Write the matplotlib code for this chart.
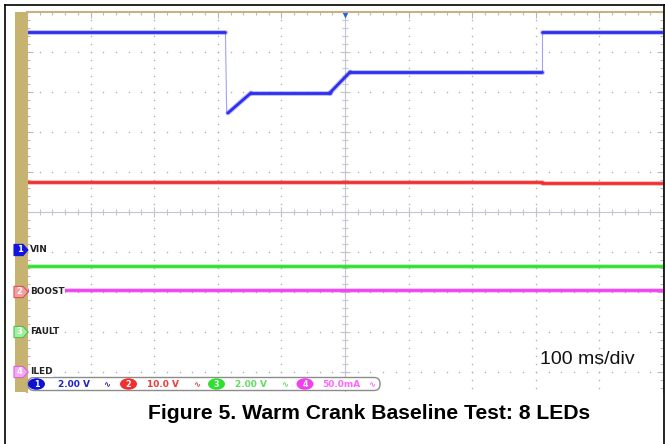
import numpy as np
import matplotlib
matplotlib.use("Agg")
import matplotlib.pyplot as plt
from matplotlib.patches import Polygon, Ellipse, FancyBboxPatch, Rectangle
from matplotlib.transforms import blended_transform_factory
from matplotlib.ticker import MultipleLocator
from matplotlib.collections import LineCollection

# --- scope capture values (time in ms) ---
vin_t = [-500, -188, -186, -184, -148, -24, 8, 310, 310, 500]
vin_v = [10.9, 10.9, 6.8, 6.85, 7.85, 7.85, 8.9, 8.9, 10.9, 10.9]      # V

boost_t = [-500, 310, 310, 500]
boost_v = [27.5, 27.5, 27.25, 27.25]                                    # V

fault_t = [-500, 500]
fault_v = [3.3, 3.3]                                                    # V

iled_t = [-500, 500]
iled_v = [102, 102]                                                     # mA

channel_names = ["VIN", "BOOST", "FAULT", "ILED"]
channel_scales = [2.0, 10.0, 2.0, 50.0]          # per division
channel_offsets = [-0.95, -2.0, -3.0, -4.0]      # ground marker, divisions
scale_labels = ["2.00 V", "10.0 V", "2.00 V", "50.0mA"]
time_per_div = 100  # ms

trace_colors = ["#2e2ef0", "#f03030", "#30e030", "#f040f0"]
text_colors = ["#2020c8", "#ee3a3a", "#60dd60", "#ff66ff"]
marker_fill = ["#1414e0", "#f4a0a0", "#a0eea0", "#f4a8f4"]
marker_edge = ["#1414e0", "#e05050", "#50c050", "#e060e0"]

W, H = 665, 444
fig = plt.figure(figsize=(W / 100, H / 100), dpi=100)

# screen area (pixels): x 27..663, y 12..392
ax = fig.add_axes([27 / W, 1 - 392 / H, 636 / W, 380 / H])
ax.set_xlim(-5 * time_per_div, 5 * time_per_div)
ax.set_ylim(-4.5, 5)

# graticule dots
xs_major = [x for x in np.arange(-400, 401, 100) if x != 0]
ys_major = [y for y in np.arange(-4, 5, 1) if y != 0]
ys_minor = np.arange(-4.4, 5.0, 0.2)
xs_minor = np.arange(-480, 500, 20)
dot = dict(linestyle="none", marker="o", ms=1.1, mec="none", color="#b0b0b0")
for xm in xs_major:
    ax.plot(np.full_like(ys_minor, xm), ys_minor, **dot)
for ym in ys_major:
    ax.plot(xs_minor, np.full_like(xs_minor, ym, dtype=float), **dot)

# centre crosshair with ticks
cross = "#c4c4d4"
ax.axhline(0, color=cross, lw=0.8)
ax.axvline(0, color=cross, lw=0.8)
ax.plot(xs_minor, np.zeros_like(xs_minor), linestyle="none", marker="|", ms=4, mew=0.8, color=cross)
ax.plot(np.zeros_like(ys_minor), ys_minor, linestyle="none", marker="_", ms=4, mew=0.8, color=cross)
ax.plot(xs_major, np.zeros(len(xs_major)), linestyle="none", marker="|", ms=7, mew=0.8, color=cross)
ax.plot(np.zeros(len(ys_major)), ys_major, linestyle="none", marker="_", ms=7, mew=0.8, color=cross)

# traces: fast edges are drawn thin and faint, the rest thick
traces = [(vin_t, vin_v), (boost_t, boost_v), (fault_t, fault_v), (iled_t, iled_v)]
for i, (t, v) in enumerate(traces):
    y = np.array(v) / channel_scales[i] + channel_offsets[i]
    pts = np.column_stack([t, y])
    segs = np.stack([pts[:-1], pts[1:]], axis=1)
    fast = np.abs(np.diff(t)) < 3
    slow_segs = segs[~fast]
    fast_segs = segs[fast]
    ax.add_collection(LineCollection(slow_segs, colors=trace_colors[i], linewidths=3.6,
                                     alpha=0.3, capstyle="round"))
    ax.add_collection(LineCollection(slow_segs, colors=trace_colors[i], linewidths=2.0,
                                     capstyle="round"))
    if len(fast_segs):
        ax.add_collection(LineCollection(fast_segs, colors=trace_colors[i], linewidths=0.8,
                                         alpha=0.45))

# trigger marker
ax.plot([0], [4.93], marker="v", ms=5, color="#2a60e0", clip_on=False, mec="none")

ax.xaxis.set_major_locator(MultipleLocator(time_per_div))
ax.xaxis.set_minor_locator(MultipleLocator(time_per_div / 5))
ax.yaxis.set_major_locator(MultipleLocator(1))
ax.yaxis.set_minor_locator(MultipleLocator(0.2))
ax.tick_params(which="both", direction="in", top=True, right=True, bottom=False,
               labelleft=False, labelbottom=False, color="#b8b8b8")
ax.tick_params(which="major", length=4, width=0.8)
ax.tick_params(which="minor", length=2, width=0.8)
for side in ["top", "left"]:
    ax.spines[side].set_color("#c9b27e")
    ax.spines[side].set_linewidth(1.5)
ax.spines["right"].set_color("#c0c0c0")
ax.spines["right"].set_linewidth(0.8)
ax.spines["bottom"].set_visible(False)

# overlay in pixel coordinates
ov = fig.add_axes([0, 0, 1, 1])
ov.set_xlim(0, W)
ov.set_ylim(H, 0)
ov.axis("off")
ov.set_zorder(5)

ov.add_patch(Rectangle((15, 12), 12, 380, color="#c5b36f", lw=0))
ov.plot([5, 5], [5, H], color="black", lw=1.2)
ov.plot([5, W], [5, 5], color="black", lw=1.2)
ov.plot([663.5, 663.5], [5, H], color="black", lw=1.2)

# channel ground markers and labels
mix = blended_transform_factory(ov.transData, ax.transData)
for i, name in enumerate(channel_names):
    off = channel_offsets[i]
    h = 0.14
    ov.add_patch(Polygon([(14, off + h), (23, off + h), (28, off), (23, off - h), (14, off - h)],
                         closed=True, fc=marker_fill[i], ec=marker_edge[i], lw=0.8,
                         transform=mix))
    ov.text(19.5, off, str(i + 1), transform=mix, ha="center", va="center",
            color="white", fontsize=6, fontweight="bold")
    ov.text(30, off, name, transform=mix, ha="left", va="center", color="#222222",
            fontsize=6.4, fontweight="bold",
            bbox=dict(fc="white", ec="none", pad=0.6))

# status bar
ov.add_patch(FancyBboxPatch((28, 377.5), 352, 13, boxstyle="round,pad=0,rounding_size=6",
                            fc="white", ec="#8c8c8c", lw=1))
badge_x = [36.5, 128.5, 216.5, 305]
label_x = [58, 147, 235, 322]
icon_x = [107, 197, 285, 372]
for i in range(4):
    ov.add_patch(Ellipse((badge_x[i], 384), 17, 11.5, fc=trace_colors[i] if i else "#1010d0",
                         ec="none"))
    ov.text(badge_x[i], 384.3, str(i + 1), ha="center", va="center", color="white",
            fontsize=5.8, fontweight="bold")
    ov.text(label_x[i], 384.3, scale_labels[i], ha="left", va="center", color=text_colors[i],
            fontsize=6.5, fontweight="bold")
    ov.text(icon_x[i], 384.3, "\u223f", ha="center", va="center", color=text_colors[i],
            fontsize=6, fontweight="bold")

ov.text(540, 364, f"{time_per_div} ms/div", ha="left", va="baseline", fontsize=14,
        family="Liberation Sans", color="#111111")
ov.text(369, 419, "Figure 5. Warm Crank Baseline Test: 8 LEDs", ha="center", va="baseline",
        fontsize=15.2, fontweight="bold", family="Liberation Sans", color="black")

fig.savefig("out.png", dpi=100)
